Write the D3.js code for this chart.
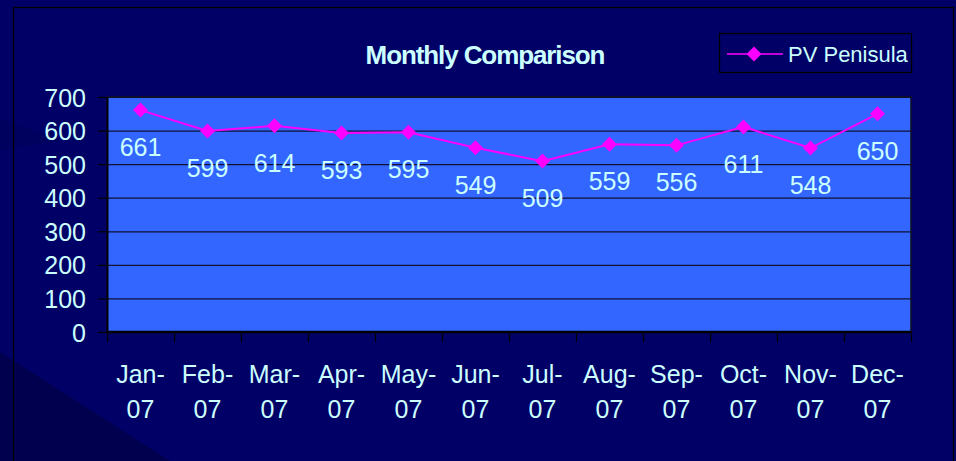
<!DOCTYPE html>
<html>
<head>
<meta charset="utf-8">
<script src="https://cdn.jsdelivr.net/npm/d3@7"></script>
<style>
  html, body { margin: 0; padding: 0; background: #000066; }
  svg { display: block; }
</style>
</head>
<body>
<svg id="chart" width="956" height="461"></svg>
<script>
// Monthly totals for PV Penisula, 2007
const months = ["Jan-07", "Feb-07", "Mar-07", "Apr-07", "May-07", "Jun-07",
                "Jul-07", "Aug-07", "Sep-07", "Oct-07", "Nov-07", "Dec-07"];
const values = [661, 599, 614, 593, 595, 549, 509, 559, 556, 611, 548, 650];
const yTicks = [0, 100, 200, 300, 400, 500, 600, 700];
const seriesName = "PV Penisula";
const chartTitle = "Monthly Comparison";

const W = 956, H = 461;
const plot = { left: 107, top: 97, right: 911, bottom: 332 };
const textColor = "#CCFFFF";
const lineColor = "#FF00FF";
const font = "'Liberation Sans', Arial, sans-serif";
const fs = 25;

const svg = d3.select("#chart");

// slide background with a darker diagonal band in the lower left
svg.append("rect").attr("width", W).attr("height", H).attr("fill", "#000066");
svg.append("polygon")
  .attr("points", `0,352 170,461 0,461`)
  .attr("fill", "#00004F");
svg.append("polygon")
  .attr("points", `0,118 60,140 0,150`)
  .attr("fill", "#00005A").attr("opacity", 0.6);

// chart frame
svg.append("rect")
  .attr("x", 13.5).attr("y", 7.5).attr("width", 940).attr("height", 460)
  .attr("fill", "none").attr("stroke", "#000").attr("stroke-width", 1.2);

const x = d3.scaleBand().domain(months).range([plot.left, plot.right]).padding(0);
const y = d3.scaleLinear().domain([0, 700]).range([plot.bottom, plot.top]);

// plot area
svg.append("rect")
  .attr("x", plot.left).attr("y", plot.top)
  .attr("width", plot.right - plot.left).attr("height", plot.bottom - plot.top)
  .attr("fill", "#3366FF");

// horizontal gridlines
svg.append("g").selectAll("line").data(yTicks.filter(d => d > 0)).join("line")
  .attr("x1", plot.left).attr("x2", plot.right)
  .attr("y1", d => y(d) + 0.5).attr("y2", d => y(d) + 0.5)
  .attr("stroke", "#111133").attr("stroke-width", 1.2);

// plot border (right and top)
svg.append("path")
  .attr("d", `M${plot.left},${plot.top}H${plot.right}V${plot.bottom}`)
  .attr("fill", "none").attr("stroke", "#111122").attr("stroke-width", 1.5);

// y axis
const yAxis = d3.axisLeft(y).tickValues(yTicks).tickSize(9).tickPadding(12).tickSizeOuter(0);
const gy = svg.append("g").attr("transform", `translate(${plot.left},0)`).call(yAxis);
gy.select(".domain").attr("stroke", "#000").attr("stroke-width", 2);
gy.selectAll(".tick line").attr("stroke", "#000").attr("stroke-width", 1.2);
gy.selectAll(".tick text")
  .attr("fill", textColor).attr("font-family", font).attr("font-size", fs)
  .attr("dy", "0.36em");

// x axis with ticks on category boundaries
const gx = svg.append("g").attr("transform", `translate(0,${plot.bottom})`);
gx.append("line").attr("x1", plot.left - 1).attr("x2", plot.right + 1)
  .attr("y1", 0).attr("y2", 0).attr("stroke", "#000").attr("stroke-width", 2.5);
const bounds = months.map(m => x(m)).concat([plot.right]);
gx.selectAll("line.tk").data(bounds).join("line").attr("class", "tk")
  .attr("x1", d => d + 0.5).attr("x2", d => d + 0.5)
  .attr("y1", 0).attr("y2", 10).attr("stroke", "#000").attr("stroke-width", 1.2);
const lab = gx.selectAll("text").data(months).join("text")
  .attr("x", d => x(d) + x.bandwidth() / 2)
  .attr("text-anchor", "middle")
  .attr("fill", textColor).attr("font-family", font).attr("font-size", fs);
lab.append("tspan").attr("x", d => x(d) + x.bandwidth() / 2).attr("y", 51)
  .text(d => d.split("-")[0] + "-");
lab.append("tspan").attr("x", d => x(d) + x.bandwidth() / 2).attr("y", 86)
  .text(d => d.split("-")[1]);

// series line
const cx = d => x(d) + x.bandwidth() / 2;
const line = d3.line().x((d, i) => cx(months[i])).y(d => y(d));
svg.append("path").datum(values).attr("d", line)
  .attr("fill", "none").attr("stroke", lineColor).attr("stroke-width", 2);

// diamond markers
const diamond = (r) => `M0,${-r}L${r},0L0,${r}L${-r},0Z`;
svg.append("g").selectAll("path").data(values).join("path")
  .attr("transform", (d, i) => `translate(${cx(months[i])},${y(d)})`)
  .attr("d", diamond(7.5)).attr("fill", lineColor);

// value labels below each point
svg.append("g").selectAll("text").data(values).join("text")
  .attr("x", (d, i) => cx(months[i]))
  .attr("y", d => y(d) + 46)
  .attr("text-anchor", "middle")
  .attr("fill", textColor).attr("font-family", font).attr("font-size", fs)
  .text(d => d);

// title
svg.append("text")
  .attr("x", 485).attr("y", 64)
  .attr("text-anchor", "middle")
  .attr("fill", textColor).attr("font-family", font).attr("font-weight", "bold")
  .attr("font-size", 26).attr("letter-spacing", -1.1)
  .text(chartTitle);

// legend
const lg = svg.append("g");
lg.append("rect").attr("x", 719.5).attr("y", 33.5).attr("width", 192).attr("height", 39)
  .attr("fill", "#000066").attr("stroke", "#000").attr("stroke-width", 1.2);
lg.append("line").attr("x1", 727).attr("x2", 783).attr("y1", 54).attr("y2", 54)
  .attr("stroke", lineColor).attr("stroke-width", 1.5);
lg.append("path").attr("transform", "translate(754,54)").attr("d", diamond(7.5)).attr("fill", lineColor);
lg.append("text").attr("x", 788).attr("y", 62)
  .attr("fill", textColor).attr("font-family", font).attr("font-size", 22)
  .text(seriesName);
</script>
</body>
</html>
